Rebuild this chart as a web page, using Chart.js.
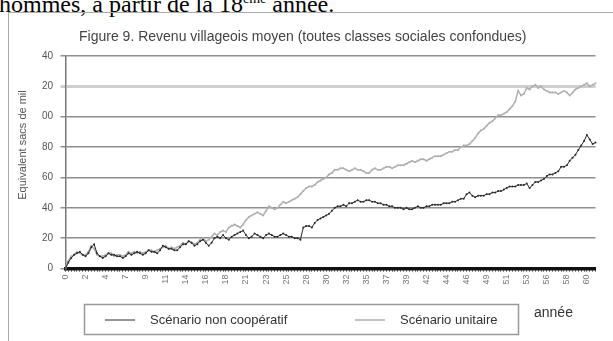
<!DOCTYPE html>
<html>
<head>
<meta charset="utf-8">
<script src="https://cdn.jsdelivr.net/npm/chart.js@4"></script>
<style>
  html, body { margin: 0; padding: 0; background: #fff; overflow: hidden; }
  #page { position: relative; width: 613px; height: 341px; overflow: hidden; }
  #texte { position: absolute; left: -1px; top: -13px; font: 24px "Liberation Serif", serif; line-height: 24px; color: #000; white-space: nowrap; }
  #texte sup { font-size: 14px; }
  #cadre { position: absolute; left: 8px; top: 12px; width: 700px; height: 400px; border: 1.5px solid #aaa; }
  #revenuChart { position: absolute; left: 0; top: 0; }
</style>
</head>
<body>
<div id="page">
  <div id="texte">hommes, à partir de la 18<sup>ème</sup> année.</div>
  <div id="cadre"></div>
  <canvas id="revenuChart" width="613" height="341"></canvas>
</div>
<script>
// Années 0..61, trois périodes par année
const annees = Array.from({ length: 62 }, (_, a) => String(a));
const periodes = annees.flatMap(a => [a, a, a]);

// Libellés de l'axe vertical tels qu'ils apparaissent
const yTickLabels = ['0', '20', '40', '60', '80', '00', '20', '40'];
const yTitre = 'Equivalent sacs de mil';
const xTitre = 'année';

const nonCooperatif = [
    0, 4, 7, 9, 10, 11, 9, 8, 10, 14,
    16, 10, 8, 7, 8, 10, 9, 9, 8, 8,
    7, 8, 10, 9, 10, 11, 10, 9, 10, 12,
    11, 11, 10, 12, 15, 14, 13, 13, 12, 12,
    14, 16, 16, 18, 17, 15, 16, 18, 19, 17,
    15, 17, 20, 21, 20, 22, 20, 19, 21, 22,
    23, 24, 25, 22, 20, 21, 23, 22, 21, 20,
    22, 23, 22, 21, 21, 22, 23, 22, 21, 21,
    20, 20, 19, 27, 28, 28, 27, 30, 32, 33,
    34, 35, 36, 38, 40, 41, 41, 42, 41, 43,
    43, 44, 45, 44, 44, 45, 45, 44, 44, 43,
    43, 42, 42, 41, 41, 40, 40, 40, 39, 40,
    39, 39, 40, 41, 40, 40, 41, 41, 42, 42,
    42, 42, 43, 43, 43, 44, 44, 45, 46, 46,
    49, 50, 48, 47, 48, 48, 48, 49, 49, 50,
    50, 51, 51, 52, 53, 54, 54, 54, 55, 55,
    55, 56, 53, 55, 57, 57, 58, 59, 61, 62,
    62, 63, 64, 67, 67, 68, 71, 73, 75, 78,
    81, 84, 88, 85, 82, 83
];

const unitaire = [
    0, 5, 8, 9, 11, 10, 9, 9, 11, 15,
    13, 9, 8, 8, 9, 10, 10, 8, 9, 9,
    8, 9, 11, 10, 11, 10, 11, 10, 11, 12,
    12, 11, 12, 13, 14, 15, 13, 14, 13, 14,
    15, 17, 16, 18, 17, 16, 17, 19, 20, 18,
    19, 21, 23, 22, 24, 25, 24, 27, 28, 29,
    28, 27, 29, 32, 34, 35, 36, 37, 36, 35,
    38, 41, 40, 39, 40, 42, 44, 43, 44, 45,
    46, 47, 49, 51, 53, 54, 54, 55, 57, 58,
    59, 60, 62, 63, 65, 65, 66, 66, 65, 64,
    65, 66, 65, 65, 64, 63, 63, 65, 66, 65,
    65, 66, 67, 67, 66, 67, 68, 68, 68, 69,
    70, 71, 70, 71, 72, 72, 71, 72, 73, 74,
    74, 74, 75, 76, 77, 77, 78, 78, 80, 81,
    81, 82, 84, 86, 89, 91, 92, 94, 96, 97,
    99, 101, 101, 102, 103, 105, 107, 110, 117, 114,
    115, 119, 118, 120, 121, 119, 120, 118, 117, 116,
    116, 116, 115, 116, 117, 116, 114, 116, 118, 119,
    120, 121, 122, 120, 121, 122
];

Chart.defaults.font.family = '"Liberation Sans", Arial, sans-serif';
Chart.defaults.color = '#444';

// Légende encadrée, titres des axes
const legendeEncadree = {
    id: 'legendeEncadree',
    afterDraw(chart) {
        const c = chart.ctx;
        const ds = chart.data.datasets;
        c.save();
        c.strokeStyle = '#999';
        c.lineWidth = 1.5;
        c.strokeRect(84.5, 304.5, 434, 30);
        c.font = '13px "Liberation Sans", Arial, sans-serif';
        c.fillStyle = '#333';
        c.textBaseline = 'middle';
        const items = [{ x: 105, tx: 150 }, { x: 355, tx: 400 }];
        items.forEach((it, k) => {
            c.strokeStyle = ds[k].borderColor;
            c.lineWidth = ds[k].borderWidth;
            c.beginPath();
            c.moveTo(it.x, 320);
            c.lineTo(it.x + 30, 320);
            c.stroke();
            c.fillText(ds[k].label, it.tx, 320);
        });
        c.font = '14px "Liberation Sans", Arial, sans-serif';
        c.fillText(xTitre, 534, 313);

        // titre vertical, un peu au-dessus du centre comme dans l'original
        c.translate(23, 145);
        c.rotate(-Math.PI / 2);
        c.textAlign = 'center';
        c.font = '11px "Liberation Sans", Arial, sans-serif';
        c.fillStyle = '#555';
        c.fillText(yTitre, 0, 0);
        c.restore();
    }
};

const revenuCtx = document.getElementById('revenuChart').getContext('2d');
const revenuChart = new Chart(revenuCtx, {
    type: 'line',
    data: {
        labels: periodes,
        datasets: [{
            label: 'Scénario non coopératif',
            data: nonCooperatif,
            borderColor: '#2a2a2a',
            backgroundColor: '#2a2a2a',
            borderWidth: 1,
            pointRadius: 1,
            pointBorderWidth: 0,
            tension: 0
        }, {
            label: 'Scénario unitaire',
            data: unitaire,
            borderColor: '#b0b0b0',
            backgroundColor: '#b0b0b0',
            borderWidth: 1.5,
            pointRadius: 1,
            pointBorderWidth: 0,
            tension: 0
        }]
    },
    options: {
        responsive: false,
        animation: false,
        layout: {
            padding: { left: 10, right: 17.5, top: 29, bottom: 0 }
        },
        plugins: {
            legend: { display: false },
            tooltip: { enabled: false },
            title: {
                display: true,
                text: 'Figure 9. Revenu villageois moyen (toutes classes sociales confondues)',
                color: '#444',
                font: { size: 14, weight: 'normal' },
                padding: { top: 0, bottom: 10.2 }
            }
        },
        scales: {
            x: {
                offset: false,
                grid: {
                    drawOnChartArea: false,
                    color: '#111',
                    tickLength: 3
                },
                border: { color: '#111', width: 3.5 },
                ticks: {
                    autoSkip: false,
                    maxRotation: 90,
                    minRotation: 90,
                    padding: 3,
                    color: '#777',
                    font: { size: 9 },
                    callback: function(value, index) {
                        return index % 7 === 0 ? periodes[index] : '';
                    }
                },
                afterFit: function(scale) {
                    scale.height = 72.5;
                }
            },
            y: {
                min: 0,
                max: 140,
                grid: {
                    color: function(ctx) {
                        return ctx.tick && ctx.tick.value === 120 ? '#cfcfcf' : '#8e8e8e';
                    },
                    lineWidth: function(ctx) {
                        return ctx.tick && ctx.tick.value === 120 ? 3 : 1.5;
                    },
                    tickLength: 5
                },
                border: { color: '#777', width: 1.5 },
                ticks: {
                    stepSize: 20,
                    padding: 7.5,
                    color: '#555',
                    font: { size: 10 },
                    callback: function(value) {
                        return yTickLabels[value / 20];
                    }
                },
                afterFit: function(scale) {
                    scale.width = 55.5;
                }
            }
        }
    },
    plugins: [legendeEncadree]
});
</script>
</body>
</html>
